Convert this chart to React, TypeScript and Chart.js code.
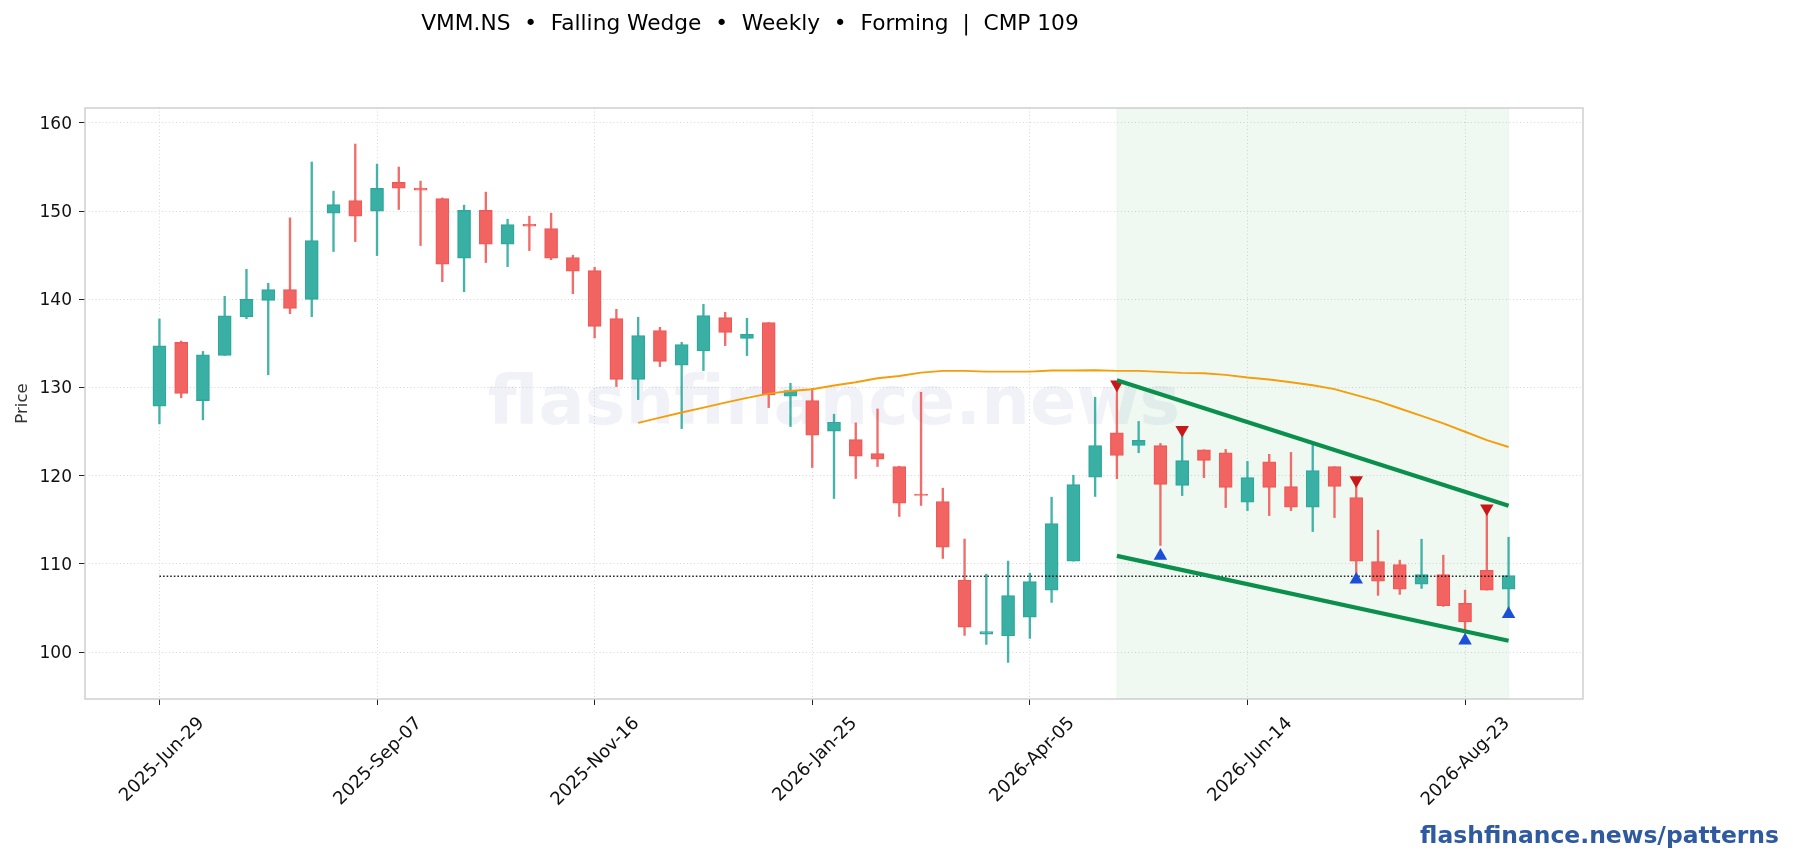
import React, { useRef, useEffect } from 'react';
import { Chart, registerables } from 'chart.js';

Chart.register(...registerables);

const tickDates = ['2025-Jun-29', '2025-Sep-07', '2025-Nov-16', '2026-Jan-25', '2026-Apr-05', '2026-Jun-14', '2026-Aug-23'];

// weekly candles
const opens = [127.88, 135.11, 128.52, 133.64, 138.03, 139.89, 141.1, 140, 149.77, 151.21, 150, 153.26, 152.61, 151.44, 144.66, 150.08, 146.25, 148.52, 148.03, 144.73, 143.25, 137.81, 130.93, 136.45, 132.52, 134.14, 137.92, 135.58, 137.36, 129.01, 128.52, 125.04, 124.1, 122.51, 121.03, 117.9, 117.07, 108.15, 102.03, 101.84, 103.96, 107.02, 110.31, 119.83, 124.87, 123.43, 123.4, 118.9, 122.94, 122.6, 116.98, 121.58, 118.75, 116.42, 121.02, 117.51, 110.26, 109.92, 107.7, 108.79, 105.51, 109.25, 107.13];
const highs = [137.77, 135.27, 134.09, 140.34, 143.41, 141.82, 149.24, 155.57, 152.27, 157.61, 155.34, 155, 153.41, 151.5, 150.68, 152.16, 149.09, 149.43, 149.77, 145, 143.63, 138.87, 137.96, 136.83, 135.13, 139.43, 138.53, 137.85, 137.36, 130.48, 129.91, 126.97, 125.98, 127.57, 121.07, 129.46, 118.58, 112.81, 108.83, 110.31, 108.95, 117.56, 120.05, 128.89, 130.5, 126.15, 123.66, 124.8, 122.94, 122.98, 121.62, 122.42, 122.64, 123.47, 121.02, 119.5, 113.81, 110.42, 112.79, 110.98, 107.02, 116.3, 113.02];
const lows = [125.87, 128.83, 126.33, 133.64, 137.8, 131.44, 138.37, 138.03, 145.42, 146.55, 144.96, 150.19, 146.1, 142, 140.87, 144.17, 143.71, 145.53, 144.5, 140.64, 135.62, 130.1, 128.63, 132.37, 125.34, 131.92, 134.75, 133.62, 127.72, 125.57, 120.92, 117.41, 119.68, 121.04, 115.37, 116.62, 110.61, 101.88, 100.86, 98.82, 101.54, 105.62, 110.31, 117.64, 119.66, 122.6, 112.08, 117.74, 119.77, 116.38, 116.04, 115.47, 116.04, 113.66, 115.25, 108.7, 106.42, 106.53, 107.21, 105.17, 102.15, 107.02, 104.4];
const closes = [134.73, 129.32, 133.71, 138.14, 140, 141.1, 138.98, 146.67, 150.76, 149.43, 152.58, 152.61, 152.39, 143.98, 150.08, 146.25, 148.48, 148.3, 144.66, 143.18, 136.94, 130.93, 135.88, 132.97, 134.86, 138.15, 136.26, 136.03, 129.16, 129.65, 124.59, 126.06, 122.21, 121.87, 116.88, 117.75, 111.89, 102.83, 102.33, 106.41, 108, 114.57, 119, 123.41, 122.3, 124, 119.02, 121.7, 121.74, 118.68, 119.77, 118.68, 116.42, 120.57, 118.79, 110.3, 108.04, 107.13, 108.79, 105.25, 103.4, 107.02, 108.68];

// moving average, starts at week 22
const maStart = 22;
const maValues = [125.98, 126.59, 127.16, 127.72, 128.29, 128.82, 129.31, 129.61, 129.8, 130.22, 130.6, 131.05, 131.31, 131.69, 131.88, 131.88, 131.8, 131.8, 131.8, 131.92, 131.92, 131.95, 131.88, 131.89, 131.77, 131.66, 131.62, 131.43, 131.13, 130.9, 130.6, 130.26, 129.81, 129.13, 128.45, 127.62, 126.79, 125.92, 124.98, 124.04, 123.25];

const patternWeeks = [44, 62];
const upperWedge = [130.83, 116.6];
const lowerWedge = [110.9, 101.28];

const cmpWeeks = [0, 62];
const cmpLevel = [108.6, 108.6];

const pivotHighWeeks = [44, 47, 55, 61];
const pivotHighs = [130.35, 125.2, 119.48, 116.3];
const pivotLowWeeks = [46, 55, 60, 62];
const pivotLows = [110.9, 108.2, 101.3, 104.3];

const titleText = 'VMM.NS  \u2022  Falling Wedge  \u2022  Weekly  \u2022  Forming  |  CMP 109';
const FONT = '"DejaVu Sans"';

const toPoints = (xs: number[], ys: number[]) => xs.map((x, i) => ({ x, y: ys[i] }));

const overlayPlugin = {
  id: 'overlay',
  beforeDatasetsDraw(chart: any) {
    const { ctx, chartArea: a, scales } = chart;
    ctx.save();
    // pattern window
    const x0 = scales.x.getPixelForValue(patternWeeks[0]);
    const x1 = scales.x.getPixelForValue(patternWeeks[1]);
    ctx.fillStyle = 'rgba(22,163,74,0.07)';
    ctx.fillRect(x0, a.top, x1 - x0, a.bottom - a.top);
    ctx.strokeStyle = 'rgba(22,163,74,0.06)';
    ctx.strokeRect(x0, a.top, x1 - x0, a.bottom - a.top);
    // watermark
    ctx.fillStyle = 'rgba(30,64,140,0.065)';
    ctx.font = `bold 68.4px ${FONT}`;
    ctx.textAlign = 'center';
    ctx.textBaseline = 'alphabetic';
    ctx.fillText('flashfinance.news', (a.left + a.right) / 2, 424);
    ctx.restore();
  },
  afterDraw(chart: any) {
    const { ctx, chartArea: a } = chart;
    ctx.save();
    ctx.strokeStyle = '#cfcfcf';
    ctx.lineWidth = 1.5;
    ctx.strokeRect(a.left, a.top, a.right - a.left, a.bottom - a.top);
    ctx.fillStyle = '#000';
    ctx.font = `21.7px ${FONT}`;
    ctx.textAlign = 'center';
    ctx.textBaseline = 'alphabetic';
    ctx.fillText(titleText, 750, 30);
    ctx.fillStyle = '#2f5aa0';
    ctx.font = `bold 23.45px ${FONT}`;
    ctx.textAlign = 'right';
    ctx.fillText('flashfinance.news/patterns', 1779, 843);
    ctx.restore();
  },
};

const App = () => {
  const canvasRef = useRef<any>(null);
  const chartRef = useRef<any>(null);

  useEffect(() => {
    document.body.style.margin = '0';
    const isUp = closes.map((c, i) => c >= opens[i]);
    const weeks = closes.map((_, i) => i);

    chartRef.current = new Chart(canvasRef.current.getContext('2d'), {
      type: 'bar',
      data: {
        datasets: [
          {
            type: 'line',
            data: toPoints(patternWeeks, upperWedge),
            borderColor: '#0b8f4d',
            borderWidth: 4.2,
            pointRadius: 0,
            order: 2,
          },
          {
            type: 'line',
            data: toPoints(patternWeeks, lowerWedge),
            borderColor: '#0b8f4d',
            borderWidth: 4.2,
            pointRadius: 0,
            order: 2,
          },
          {
            type: 'line',
            data: toPoints(pivotLowWeeks, pivotLows),
            showLine: false,
            pointStyle: 'triangle',
            pointRadius: 7.8,
            pointBorderWidth: 0,
            pointBackgroundColor: '#1d4ed8',
            order: 1,
          },
          {
            type: 'line',
            data: toPoints(pivotHighWeeks, pivotHighs),
            showLine: false,
            pointStyle: 'triangle',
            pointRotation: 180,
            pointRadius: 7.8,
            pointBorderWidth: 0,
            pointBackgroundColor: '#c81818',
            order: 3,
          },
          {
            type: 'line',
            data: maValues.map((y, i) => ({ x: maStart + i, y })),
            borderColor: '#f59e0b',
            borderWidth: 1.9,
            pointRadius: 0,
            tension: 0,
            order: 4,
          },
          {
            type: 'line',
            data: toPoints(cmpWeeks, cmpLevel),
            borderColor: 'rgba(0,0,0,0.85)',
            borderWidth: 1.5,
            borderDash: [1.6, 2],
            pointRadius: 0,
            order: 5,
          },
          {
            data: weeks.map((i) => ({ x: i, y: [opens[i], closes[i]] })),
            backgroundColor: isUp.map((u) => (u ? 'rgb(58,175,163)' : 'rgb(242,100,98)')),
            borderColor: isUp.map((u) => (u ? 'rgb(44,168,156)' : 'rgb(240,88,86)')),
            borderWidth: 1.3,
            borderSkipped: false,
            barThickness: 13,
            grouped: false,
            order: 6,
          },
          {
            data: weeks.map((i) => ({ x: i, y: [lows[i], highs[i]] })),
            backgroundColor: isUp.map((u) => (u ? 'rgba(38,166,154,0.85)' : 'rgba(239,83,80,0.85)')),
            borderWidth: 0,
            barThickness: 1.7,
            grouped: false,
            order: 7,
          },
        ] as any,
      },
      options: {
        responsive: false,
        animation: false,
        devicePixelRatio: 1,
        layout: { padding: { left: 0, top: 108, right: 210, bottom: 0 } },
        plugins: { legend: { display: false }, tooltip: { enabled: false } },
        scales: {
          x: {
            type: 'linear',
            offset: false,
            min: -3.42,
            max: 65.42,
            afterFit: (axis: any) => { axis.height = 161; },
            border: { display: false, dash: [1, 2.5] },
            grid: { offset: false, color: '#d8d8d8', lineWidth: 1, tickColor: '#222', tickLength: 6, tickWidth: 1 },
            ticks: {
              stepSize: 10,
              includeBounds: false,
              minRotation: 45,
              maxRotation: 45,
              labelOffset: 42,
              padding: 8,
              color: '#111',
              font: { family: FONT, size: 18 },
              callback: (v: any) => tickDates[v / 10],
            },
          },
          y: {
            min: 94.67,
            max: 161.7,
            afterFit: (axis: any) => { axis.width = 85; },
            border: { display: false, dash: [1, 2.5] },
            grid: { color: '#d8d8d8', lineWidth: 1, tickColor: '#222', tickLength: 6, tickWidth: 1 },
            title: { display: true, text: 'Price', color: '#333', font: { family: FONT, size: 16.5 }, padding: { top: 13, bottom: 4 } },
            ticks: {
              stepSize: 10,
              includeBounds: false,
              padding: 7,
              labelOffset: 1.5,
              color: '#111',
              font: { family: FONT, size: 17 },
            },
          },
        },
      } as any,
      plugins: [overlayPlugin],
    });

    return () => {
      if (chartRef.current) {
        chartRef.current.destroy();
      }
    };
  }, []);

  return <canvas ref={canvasRef} width={1793} height={860} style={{ display: 'block', width: 1793, height: 860 }} />;
};

export default App;
